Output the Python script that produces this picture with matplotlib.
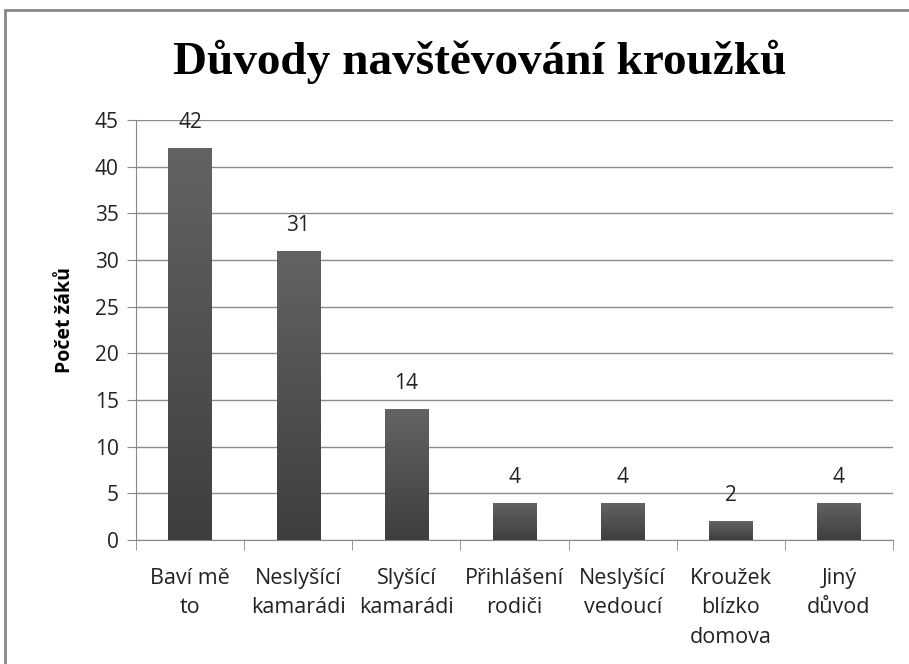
import numpy as np
import matplotlib.pyplot as plt
from matplotlib.colors import LinearSegmentedColormap
from matplotlib.patches import Rectangle

categories = ["Baví mě\nto", "Neslyšící\nkamarádi", "Slyšící\nkamarádi", "Přihlášení\nrodiči",
              "Neslyšící\nvedoucí", "Kroužek\nblízko\ndomova", "Jiný\ndůvod"]
values = [42, 31, 14, 4, 4, 2, 4]

plt.rcParams['font.family'] = ['Open Sans', 'DejaVu Sans']

fig = plt.figure(figsize=(9.09, 6.64), dpi=100)
ax = fig.add_axes([0.1496, 0.187, 0.8328, 0.632])

x = np.arange(len(categories))
bars = ax.bar(x, values, width=0.40, color='none', edgecolor='none', zorder=3)

# vertical gradient like the Excel bars
cmap = LinearSegmentedColormap.from_list('g', ['#3e3e3e', '#636363'])
grad = np.linspace(0, 1, 256).reshape(-1, 1)
for b, v in zip(bars, values):
    im = ax.imshow(grad, cmap=cmap, origin='lower', aspect='auto', zorder=3,
                   extent=[b.get_x(), b.get_x() + b.get_width(), 0, v])
    im.set_clip_path(b)
    ax.text(b.get_x() + b.get_width() / 2, v + 1.6, str(v), ha='center', va='bottom',
            fontsize=15, color='#222222')

ax.set_xlim(-0.5, len(categories) - 0.5)
ax.set_ylim(0, 45)
ax.set_yticks(range(0, 46, 5))
ax.tick_params(axis='y', labelsize=15, length=6.5, pad=6, color='#888888', colors='#222222')
ax.set_xticks(x)
ax.set_xticklabels(categories, fontsize=15.5, color='#222222', linespacing=1.55)
ax.tick_params(axis='x', length=0, pad=20)
ax.set_xticks(np.arange(-0.5, len(categories)), minor=True)
ax.tick_params(axis='x', which='minor', length=7, color='#888888')

ax.grid(axis='y', color='#8c8c8c', linewidth=1)
ax.set_axisbelow(True)
for s in ['top', 'right']:
    ax.spines[s].set_visible(False)
for s in ['left', 'bottom']:
    ax.spines[s].set_color('#888888')

ax.set_ylabel("Počet žáků", fontsize=14, fontweight='bold')
ax.yaxis.set_label_coords(-0.08, 0.525)
fig.text(0.528, 0.907, "Důvody navštěvování kroužků", ha='center', va='center',
         fontsize=34, fontweight='bold', family=['Liberation Serif', 'DejaVu Serif'])

fig.patches.append(Rectangle((0.006, -0.1), 1.0, 1.085, transform=fig.transFigure,
                             fill=False, edgecolor='#888888', linewidth=2))

fig.savefig('out.png', dpi=100)
